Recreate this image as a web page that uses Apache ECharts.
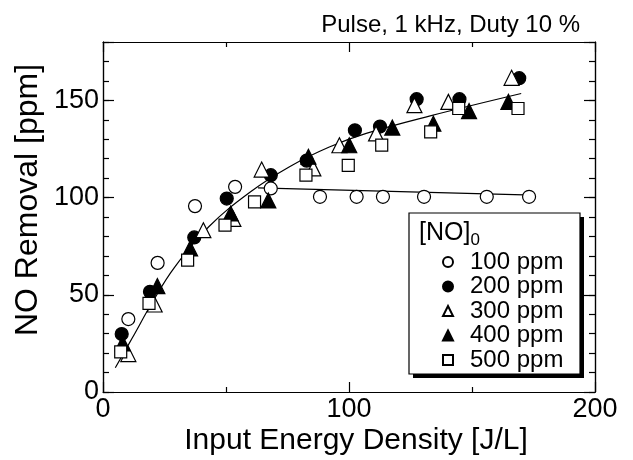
<!DOCTYPE html>
<html>
<head>
<meta charset="utf-8">
<script src="https://cdn.jsdelivr.net/npm/echarts@6/dist/echarts.min.js"></script>
<style>html,body{margin:0;padding:0;background:#fff}#c{width:633px;height:460px}</style>
</head>
<body>
<div id="c"></div>
<script>
// ---- data ----
const seriesNames = ['100 ppm', '200 ppm', '300 ppm', '400 ppm', '500 ppm'];
const x100 = [10.3, 22.2, 37.4, 53.7, 68.2, 88.2, 103.1, 113.8, 130.5, 156.0, 173.2];
const y100 = [37.5, 66.4, 95.6, 105.5, 104.7, 100.4, 100.4, 100.4, 100.4, 100.4, 100.4];
const x200 = [7.6, 19.1, 37.1, 50.3, 68.2, 82.8, 102.4, 112.6, 127.5, 144.9, 169.2];
const y200 = [29.8, 51.5, 79.5, 99.5, 111.5, 119.0, 134.6, 136.5, 150.6, 150.6, 161.4];
const x300 = [10.3, 21.0, 40.8, 53.0, 64.5, 85.5, 96.1, 111.0, 126.6, 140.4, 166.1];
const y300 = [19.5, 45.0, 83.2, 89.0, 114.4, 115.0, 126.9, 133.0, 147.5, 149.2, 161.6];
const x400 = [8.0, 22.1, 35.4, 51.9, 67.2, 83.5, 100.1, 117.6, 134.3, 148.8, 164.8];
const y400 = [25.0, 54.5, 73.8, 91.8, 98.5, 121.0, 126.9, 136.0, 138.0, 144.5, 149.2];
const x500 = [7.2, 18.7, 34.4, 49.6, 61.6, 82.5, 99.7, 113.3, 133.2, 144.6, 168.7];
const y500 = [20.6, 45.6, 67.8, 85.8, 97.8, 111.5, 116.6, 127.0, 133.8, 145.8, 145.8];
// fitted curves
const fitAllX = [5, 12, 20, 29, 43, 60, 76, 92, 107, 133, 170];
const fitAllY = [12.5, 28, 46, 64, 85, 103, 116, 126, 133, 142, 153.5];
const fit100X = [63, 175];
const fit100Y = [105, 101.3];
const xTicks = [0, 100, 200];
const yTicks = [0, 50, 100, 150];

const zip = (a, b) => a.map((v, i) => [v, b[i]]);
const FONT = '"Liberation Sans", Arial, Helvetica, sans-serif';

const chart = echarts.init(document.getElementById('c'), null, {renderer: 'canvas'});

const axisLineStyle = {lineStyle: {color: '#000', width: 1.2}};
function xAx(pos, labels) {
  return {
    type: 'value', position: pos, min: 0, max: 200, interval: 100,
    axisLine: {show: true, onZero: false, ...axisLineStyle},
    axisTick: {show: true, inside: true, length: 10, lineStyle: {color: '#000', width: 1.2}},
    minorTick: {show: true, splitNumber: 2, length: 5, lineStyle: {color: '#000', width: 1.2}},
    splitLine: {show: false},
    axisLabel: {show: labels, color: '#000', fontFamily: FONT, fontSize: 27, margin: 4,
      formatter: v => xTicks.includes(v) ? String(v) : ''}
  };
}
function yAx(pos, interval, len, labels) {
  return {
    type: 'value', position: pos, min: 0, max: 180, interval: interval,
    axisLine: {show: true, onZero: false, ...axisLineStyle},
    axisTick: {show: true, inside: true, length: len, lineStyle: {color: '#000', width: 1.2}},
    splitLine: {show: false},
    axisLabel: {show: labels, color: '#000', fontFamily: FONT, fontSize: 27, margin: 4,
      formatter: v => yTicks.includes(v) ? String(v) : ''}
  };
}

const scatterStyle = (fill) => ({color: fill, borderColor: '#000', borderWidth: 1.2, opacity: 1});

chart.setOption({
  animation: false,
  backgroundColor: '#fff',
  grid: {left: 103, right: 38, top: 42, bottom: 68, containLabel: false},
  xAxis: [xAx('bottom', true), xAx('top', false)],
  yAxis: [yAx('left', 10, 6, true), yAx('left', 50, 11, false), yAx('right', 10, 6, false), yAx('right', 50, 11, false)],
  legend: {
    show: true, orient: 'vertical', left: 437, top: 245, z: 30,
    itemWidth: 10, itemHeight: 10, itemGap: 0.5,
    data: seriesNames,
    textStyle: {color: '#000', fontFamily: FONT, fontSize: 24, lineHeight: 24, padding: [0, 0, 0, 12]}
  },
  series: [
    {type: 'line', data: zip(fit100X, fit100Y), showSymbol: false, symbol: 'none', lineStyle: {color: '#000', width: 1.2}, z: 1, silent: true},
    {type: 'line', data: zip(fitAllX, fitAllY), smooth: 0.4, showSymbol: false, symbol: 'none', lineStyle: {color: '#000', width: 1.2}, z: 1, silent: true},
    {name: seriesNames[0], type: 'scatter', data: zip(x100, y100), symbol: 'circle', symbolSize: 13, itemStyle: scatterStyle('#fff'), z: 2},
    {name: seriesNames[1], type: 'scatter', data: zip(x200, y200), symbol: 'circle', symbolSize: 13, itemStyle: scatterStyle('#000'), z: 3},
    {name: seriesNames[2], type: 'scatter', data: zip(x300, y300), symbol: 'triangle', symbolSize: 15, itemStyle: scatterStyle('#fff'), z: 4},
    {name: seriesNames[3], type: 'scatter', data: zip(x400, y400), symbol: 'triangle', symbolSize: 15, itemStyle: scatterStyle('#000'), z: 5},
    {name: seriesNames[4], type: 'scatter', data: zip(x500, y500), symbol: 'rect', symbolSize: 12, itemStyle: scatterStyle('#fff'), z: 6}
  ],
  graphic: [
    {type: 'rect', shape: {x: 413, y: 217, width: 171, height: 161}, style: {fill: '#000'}, z: 10},
    {type: 'rect', shape: {x: 409, y: 213, width: 171, height: 161}, style: {fill: '#fff', stroke: '#000', lineWidth: 1.2}, z: 11},
    {type: 'text', z: 12, style: {x: 419, y: 233, text: '{a|[NO]}{b|0}', verticalAlign: 'middle',
      rich: {a: {fontFamily: FONT, fontSize: 25, fill: '#000'}, b: {fontFamily: FONT, fontSize: 17, fill: '#000', padding: [15, 0, 0, 0]}}}},
    {type: 'text', z: 12, style: {x: 580, y: 25, text: 'Pulse, 1 kHz, Duty 10 %', align: 'right', verticalAlign: 'middle',
      fontFamily: FONT, fontSize: 24, fill: '#000'}},
    {type: 'text', z: 12, style: {x: 356, y: 441, text: 'Input Energy Density [J/L]', align: 'center', verticalAlign: 'middle',
      fontFamily: FONT, fontSize: 30, fill: '#000'}},
    {type: 'text', z: 12, x: 28, y: 200, rotation: Math.PI / 2, style: {x: 0, y: 0, text: 'NO Removal [ppm]', align: 'center', verticalAlign: 'middle',
      fontFamily: FONT, fontSize: 32, fill: '#000'}}
  ]
});
</script>
</body>
</html>
